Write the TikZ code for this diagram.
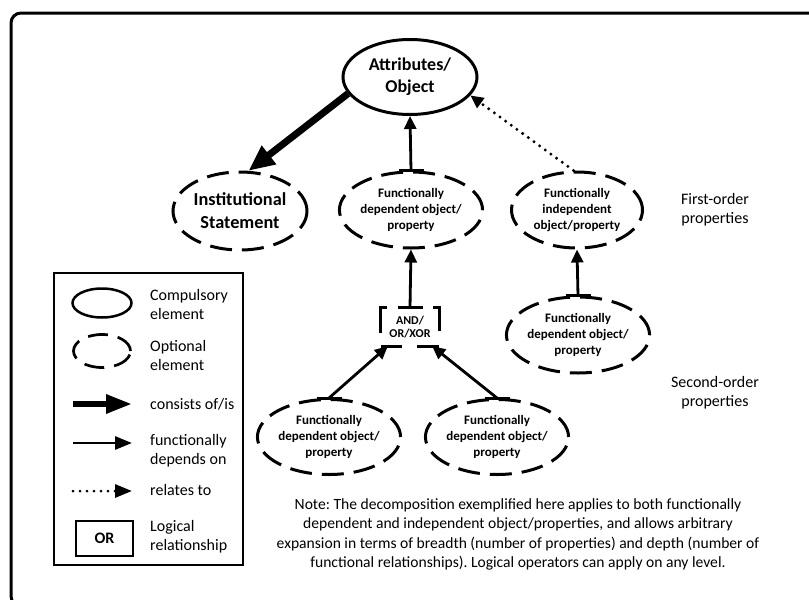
\documentclass[tikz,border=0pt]{standalone}
\usepackage{fontspec}
\setmainfont{Carlito}
\frenchspacing
\usetikzlibrary{shapes.geometric,arrows.meta}
\begin{document}
\begin{tikzpicture}[x=1pt,y=-1pt,
  solidell/.style={ellipse,draw,line width=3pt,inner sep=0pt,align=center,
    font=\bfseries\fontsize{18}{21.7}\selectfont},
  dashell/.style={ellipse,draw,line width=3pt,dash pattern=on 22pt off 10pt,
    inner sep=0pt,align=center,minimum width=132pt,minimum height=76pt,
    font=\bfseries\fontsize{13}{15.7}\selectfont},
  dep/.style={line width=2.8pt,-{Triangle[length=13pt,width=12pt]}},
  cons/.style={line width=7pt,-{Triangle[length=26pt,width=22pt]}},
  rel/.style={line width=3.3pt,dash pattern=on 0pt off 7pt,line cap=round,
    -{Triangle[length=13pt,width=12pt]}},
  tbar/.style={line width=3pt},
  boxpiece/.style={line width=3pt,line join=miter},
  lgtext/.style={anchor=west,align=left,inner sep=0pt,
    font=\fontsize{16}{19}\selectfont},
  sidetext/.style={align=center,inner sep=0pt,
    font=\fontsize{16}{19}\selectfont}
]
\useasboundingbox (0,0) rectangle (809,600);
\clip (0,0) rectangle (809,600);
\draw[line width=3pt,rounded corners=10pt] (11,13) rectangle (824,606);

% main nodes
\node[solidell,minimum width=134pt,minimum height=75pt] (attr) at (410,77) {Attributes/\\Object};
\node[dashell,minimum width=134pt,minimum height=78pt,
  font=\bfseries\fontsize{18.3}{23}\selectfont] (inst) at (240,211) {Institutional\\Statement};
\node[dashell] (mid) at (411,210) {Functionally\\dependent object/\\property};
\node[dashell,minimum width=131pt] (indep) at (577,210) {Functionally\\independent\\object/property};
\node[dashell,minimum width=133pt] (rdep) at (578,335) {Functionally\\dependent object/\\property};
\node[dashell,minimum width=133pt,minimum height=75pt] (ll) at (329,437) {Functionally\\dependent object/\\property};
\node[dashell,minimum width=131pt,minimum height=75pt] (rr) at (497,437) {Functionally\\dependent object/\\property};
\node[minimum width=58pt,minimum height=38pt,inner sep=0pt,align=center,
  font=\bfseries\fontsize{12}{13.5}\selectfont] (op) at (410,327) {AND/\\OR/XOR};

% logical box outline (broken)
\draw[boxpiece] ([xshift=6pt]op.north west) -- (op.north west) -- ++(0,25);
\draw[boxpiece] ([xshift=-6pt]op.north east) -- (op.north east) -- ++(0,23);
\draw[boxpiece] (op.south west) -- ++(21,0);
\draw[boxpiece] (op.south east) -- ++(-22,0);

% connectors
\draw[cons] (attr.195) -- (inst.78);
\draw[dep] (mid.north) -- (attr.south);
\draw[rel] (indep.95) -- (attr.343);
\draw[dep] (op.north) -- (mid.south);
\draw[dep] (rdep.north) -- (indep.south);
\draw[dep] (ll.north) -- ([xshift=7pt]op.south west);
\draw[dep] (rr.north) -- ([xshift=-7pt]op.south east);
% tails
\foreach \n in {mid,rdep,ll,rr,op}{
  \draw[tbar] ([xshift=-12.5pt]\n.north) -- ([xshift=12.5pt]\n.north);
}

% side labels
\node[sidetext] (fo) at (715,210) {First-order\\properties};
\node[sidetext] (so) at (715,393) {Second-order\\properties};

% note
\node[align=center,inner sep=0pt,font=\fontsize{15.6}{19.3}\selectfont] (note) at (518,534.5)
{Note: The decomposition exemplified here applies to both functionally\\
dependent and independent object/properties, and allows arbitrary\\
expansion in terms of breadth (number of properties) and depth (number of\\
functional relationships). Logical operators can apply on any level.};

% legend
\draw[line width=2.2pt] (54,273) rectangle (243,565);
\node[ellipse,draw,line width=2.5pt,minimum width=59pt,minimum height=29pt,inner sep=0pt] (lgc) at (102,303) {};
\node[ellipse,draw,line width=2.7pt,dash pattern=on 20pt off 10pt,minimum width=57pt,minimum height=33pt,inner sep=0pt] (lgo) at (102,351) {};
\coordinate (a1s) at (73,404); \coordinate (a1e) at (132,404);
\coordinate (a2s) at (73,443); \coordinate (a2e) at (132,443);
\coordinate (a3s) at (73,491); \coordinate (a3e) at (132,491);
\draw[line width=6pt,-{Triangle[length=26pt,width=18pt]}] (a1s) -- (a1e);
\draw[line width=2.8pt,-{Triangle[length=17pt,width=13pt]}] (a2s) -- (a2e);
\draw[line width=3pt,dash pattern=on 0pt off 7pt,line cap=round,-{Triangle[length=17pt,width=13pt]}] (a3s) -- (a3e);
\node[draw,line width=2.5pt,minimum width=57pt,minimum height=35pt,inner sep=0pt,
  font=\bfseries\fontsize{16}{19}\selectfont] (lgor) at (104.5,538.5) {OR};

\node[lgtext] (t1) at (150,304) {Compulsory\\element};
\node[lgtext] (t2) at (150,355) {Optional\\element};
\node[lgtext] (t3) at (150,404) {consists of/is};
\node[lgtext] (t4) at (150,451) {functionally\\depends on};
\node[lgtext] (t5) at (150,490) {relates to};
\node[lgtext] (t6) at (150,537) {Logical\\relationship};
\end{tikzpicture}
\end{document}
